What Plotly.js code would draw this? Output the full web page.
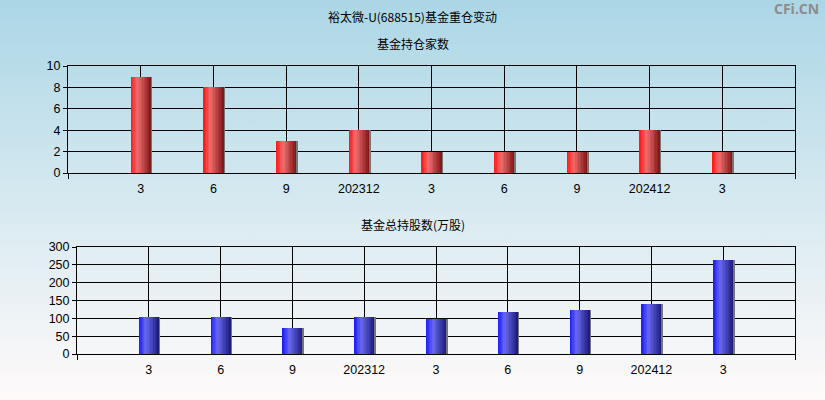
<!DOCTYPE html>
<html>
<head>
<meta charset="utf-8">
<script src="https://cdn.plot.ly/plotly-3.0.1.min.js"></script>
<style>
  html, body { margin: 0; padding: 0; }
  body { width: 825px; height: 400px; background: linear-gradient(to bottom, #abd6e6 0%, #d6e9f0 50%, #fffafa 100%); }
  #chart { width: 825px; height: 400px; }
</style>
</head>
<body>
<div id="chart"></div>
<script>
var periods = ["3", "6", "9", "202312", "3", "6", "9", "202412", "3"];
var fundCount = [9, 8, 3, 4, 2, 2, 2, 4, 2];
var fundShares = [104, 104, 74, 104, 98, 118, 123, 140, 263];

var idx = periods.map(function (p, i) { return i; });

function mix(a, b, t) {
  var r = [];
  for (var i = 0; i < 3; i++) r[i] = Math.round(a[i] + (b[i] - a[i]) * t);
  return "rgb(" + r.join(",") + ")";
}

// fake a horizontal gradient with thin overlaid bars
function stripeBars(values, xa, ya, c0, c1, c2) {
  var traces = [];
  var w = 0.28, n = 14;
  for (var k = 0; k < n; k++) {
    var t = (k + 0.5) / n, col;
    if (t < 0.35) col = mix(c0, c1, t / 0.35);
    else col = mix(c1, c2, (t - 0.35) / 0.65);
    traces.push({
      type: "bar", x: idx, y: values, xaxis: xa, yaxis: ya,
      width: w / n + 0.002, offset: -w / 2 + k * w / n,
      marker: { color: col, line: { width: 0 } },
      hoverinfo: "skip", showlegend: false
    });
  }
  traces.push({
    type: "bar", x: idx, y: values, xaxis: xa, yaxis: ya,
    width: 0.022, offset: w / 2,
    marker: { color: "#767676", line: { width: 0 } },
    hoverinfo: "skip", showlegend: false
  });
  return traces;
}

var data = stripeBars(fundCount, "x", "y", [255, 20, 20], [240, 110, 110], [125, 20, 20])
  .concat(stripeBars(fundShares, "x2", "y2", [25, 25, 255], [105, 105, 240], [25, 25, 120]));

var tickFont = { family: "Liberation Sans, Arial, sans-serif", size: 12.5, color: "#000" };
var titleFont = { family: "Noto Sans CJK SC, sans-serif", size: 12, color: "#000" };

function xAxis(domain, anchor) {
  return {
    domain: domain, anchor: anchor, range: [-1, 9],
    tickvals: idx, ticktext: periods, ticks: "", tickfont: tickFont,
    ticklabelstandoff: 4,
    minor: { tickmode: "array", tickvals: [-1, 9], ticks: "outside", ticklen: 5, tickcolor: "#000", showgrid: false },
    showgrid: true, gridcolor: "#000", gridwidth: 1,
    showline: true, linecolor: "#000", linewidth: 1, mirror: true,
    zeroline: false, fixedrange: true
  };
}
function yAxis(domain, anchor, range, dtick) {
  return {
    domain: domain, anchor: anchor, range: range, dtick: dtick,
    ticks: "outside", ticklen: 4, tickcolor: "#000", tickfont: tickFont,
    showgrid: true, gridcolor: "#000", gridwidth: 1,
    showline: true, linecolor: "#000", linewidth: 1, mirror: true,
    zeroline: false, fixedrange: true
  };
}

var layout = {
  width: 825, height: 400,
  margin: { l: 0, r: 0, t: 0, b: 0 },
  paper_bgcolor: "rgba(0,0,0,0)", plot_bgcolor: "rgba(0,0,0,0)",
  barmode: "overlay", bargap: 0,
  showlegend: false,
  xaxis: xAxis([68 / 825, 795 / 825], "y"),
  yaxis: yAxis([227 / 400, 334 / 400], "x", [0, 10], 2),
  xaxis2: xAxis([77 / 825, 795 / 825], "y2"),
  yaxis2: yAxis([46 / 400, 153 / 400], "x2", [0, 300], 50),
  annotations: [
    { text: "裕太微-U(688515)基金重仓变动", xref: "paper", yref: "paper", x: 0.5, y: 1 - 17 / 400,
      showarrow: false, font: titleFont, xanchor: "center", yanchor: "middle" },
    { text: "基金持仓家数", xref: "paper", yref: "paper", x: 0.5, y: 1 - 43 / 400,
      showarrow: false, font: titleFont, xanchor: "center", yanchor: "middle" },
    { text: "基金总持股数(万股)", xref: "paper", yref: "paper", x: 0.5, y: 1 - 224 / 400,
      showarrow: false, font: titleFont, xanchor: "center", yanchor: "middle" },
    { text: "<b>CFi.CN</b>", xref: "paper", yref: "paper", x: 1 - 4 / 825, y: 1 - 9 / 400,
      showarrow: false, xanchor: "right", yanchor: "middle",
      font: { family: "Open Sans, DejaVu Sans, sans-serif", size: 14, color: "#8c8c8c" } }
  ]
};

Plotly.newPlot("chart", data, layout, { displayModeBar: false, staticPlot: true });
</script>
</body>
</html>
